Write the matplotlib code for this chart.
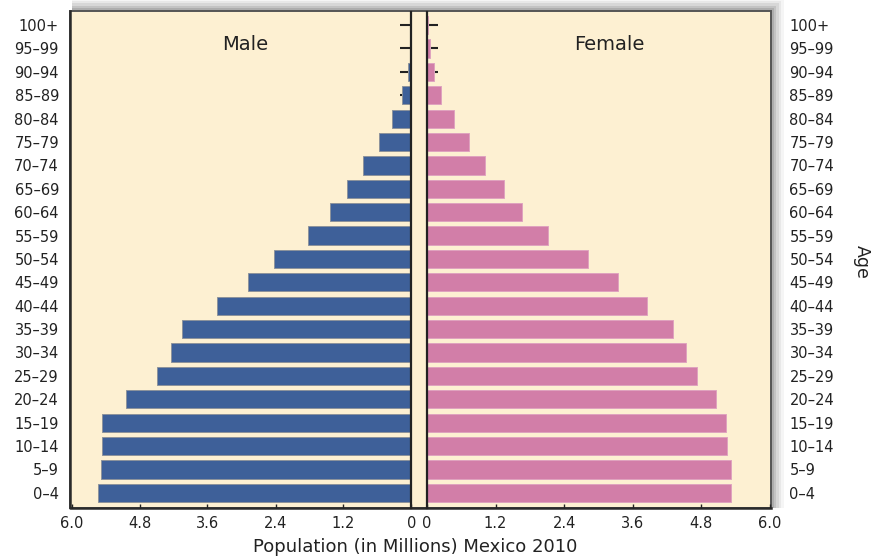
import matplotlib
matplotlib.use("Agg")
import matplotlib.pyplot as plt
from matplotlib.patches import Rectangle
import numpy as np

# ---- data (millions) ----
age_groups = ['0–4', '5–9', '10–14', '15–19', '20–24', '25–29', '30–34', '35–39',
              '40–44', '45–49', '50–54', '55–59', '60–64', '65–69', '70–74', '75–79',
              '80–84', '85–89', '90–94', '95–99', '100+']
male = [5.54, 5.48, 5.47, 5.46, 5.03, 4.50, 4.24, 4.05, 3.44, 2.89, 2.43, 1.82,
        1.44, 1.14, 0.85, 0.57, 0.34, 0.17, 0.07, 0.01, 0.005]
female = [5.31, 5.31, 5.24, 5.23, 5.06, 4.72, 4.53, 4.31, 3.85, 3.34, 2.81, 2.12,
          1.67, 1.35, 1.02, 0.73, 0.47, 0.24, 0.12, 0.045, 0.01]
xticks = [0, 1.2, 2.4, 3.6, 4.8, 6.0]
xtick_labels = ['0', '1.2', '2.4', '3.6', '4.8', '6.0']

CREAM = '#FDF0D2'
BLUE = '#3E6099'
PINK = '#D27EA8'
DARK = '#222222'
FONT = 'DejaVu Sans'
plt.rcParams['font.family'] = [FONT]

W, H = 878, 559
fig = plt.figure(figsize=(W / 100, H / 100), dpi=100)
fig.patch.set_facecolor('white')

def fx(px):
    return px / W

def fy(py):
    return 1 - py / H

# frame with shadow
x0, x1, ytop, ybot = 70, 771, 11, 508
for i, a in enumerate([0.04, 0.05, 0.07, 0.09, 0.11]):
    d = 13 - 2.6 * i
    fig.patches.append(Rectangle((fx(x0 + 2), fy(ybot)), fx(x1 - x0 - 2 + d), fy(ytop - d) - fy(ybot),
                                 transform=fig.transFigure, facecolor='black', alpha=a,
                                 edgecolor='none', zorder=-3))
fig.patches.append(Rectangle((fx(x0), fy(ybot)), fx(x1 - x0), fy(ytop) - fy(ybot),
                             transform=fig.transFigure, facecolor=CREAM,
                             edgecolor='#555555', linewidth=1.4, zorder=-2))
# darker left and bottom edges
fig.lines.append(plt.Line2D([fx(x0), fx(x0), fx(x1)], [fy(ytop), fy(ybot), fy(ybot)],
                            transform=fig.transFigure, color='#2a2a2a', linewidth=1.8, zorder=-1))

y = np.arange(len(age_groups))
ylim = (-0.65, len(age_groups) - 1 + 0.56)

axm = fig.add_axes([fx(71.5), fy(ybot), fx(411.5 - 71.5), fy(ytop + 1) - fy(ybot)])
axf = fig.add_axes([fx(427), fy(ybot), fx(770 - 427), fy(ytop + 1) - fy(ybot)])

for ax in (axm, axf):
    ax.set_facecolor('none')
    ax.set_axisbelow(True)
    ax.set_ylim(*ylim)
    ax.set_yticks(y)
    ax.set_xticks(xticks)
    ax.set_xticklabels(xtick_labels, fontsize=10.5, color='#222222')
    ax.spines['top'].set_visible(False)
    ax.spines['bottom'].set_visible(False)
    ax.tick_params(axis='x', direction='in', length=3, width=1, color=DARK, pad=6)

axm.barh(y, male, height=0.78, color=BLUE, edgecolor='#8d939c', linewidth=0.7)
axm.set_xlim(6.0, 0)
axm.spines['left'].set_visible(False)
axm.spines['right'].set_color(DARK)
axm.spines['right'].set_linewidth(1.6)
axm.set_yticklabels(age_groups, fontsize=10.5, color='#222222')
axm.tick_params(axis='y', left=False, right=True, labelleft=True, labelright=False,
                direction='in', length=8, width=1.5, color=DARK, pad=9)

axf.barh(y, female, height=0.78, color=PINK, edgecolor='#dfa3bf', linewidth=0.7)
axf.set_xlim(0, 6.0)
axf.spines['right'].set_visible(False)
axf.spines['left'].set_color(DARK)
axf.spines['left'].set_linewidth(1.6)
axf.set_yticklabels(age_groups, fontsize=10.5, color='#222222')
axf.tick_params(axis='y', left=True, right=False, labelleft=False, labelright=True,
                direction='in', length=8, width=1.5, color=DARK, pad=14)

fig.text(fx(245), fy(45), 'Male', fontsize=14, ha='center', va='center', color='#222222')
fig.text(fx(609), fy(45), 'Female', fontsize=14, ha='center', va='center', color='#222222')
fig.text(fx(415), fy(547), 'Population (in Millions) Mexico 2010', fontsize=13,
         ha='center', va='center', color='#222222')
fig.text(fx(862), fy(262), 'Age', fontsize=12.5, rotation=270, ha='center', va='center',
         color='#222222')

fig.savefig('out.png', dpi=100)
